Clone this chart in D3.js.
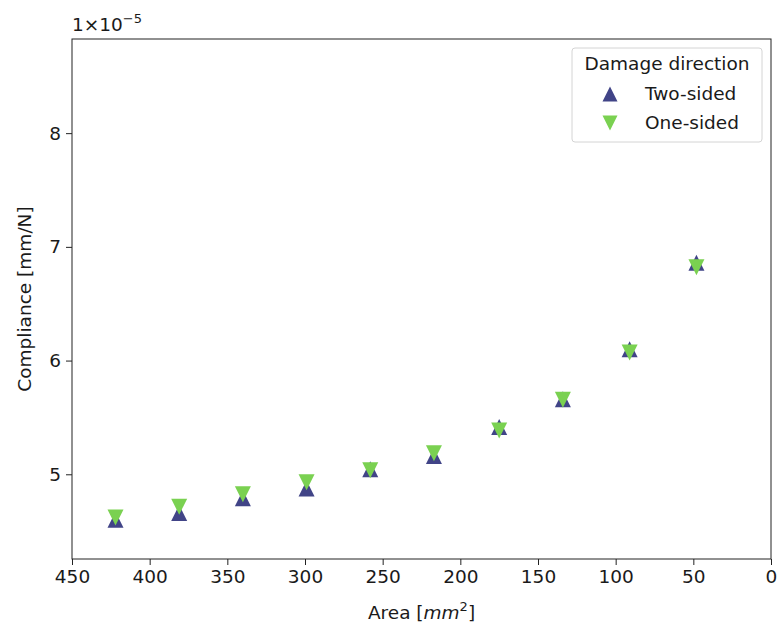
<!DOCTYPE html>
<html>
<head>
<meta charset="utf-8">
<script src="https://cdn.jsdelivr.net/npm/d3@7"></script>
<style>
  body { margin: 0; background: #fff; }
  text { font-family: "DejaVu Sans", sans-serif; fill: #1a1a1a; }
</style>
</head>
<body>
<div id="chart"></div>
<script>
// area in mm^2, compliance in 1e-5 mm/N
var areas = [422, 381, 340, 299, 258, 217, 175, 134, 91, 48];
var twoSided = [4.60, 4.66, 4.79, 4.875, 5.045, 5.16, 5.415, 5.66, 6.10, 6.86];
var oneSided = [4.62, 4.715, 4.825, 4.93, 5.035, 5.185, 5.385, 5.655, 6.07, 6.82];
var xTicks = [450, 400, 350, 300, 250, 200, 150, 100, 50, 0];
var yTicks = [5, 6, 7, 8];
var seriesNames = ["Two-sided", "One-sided"];
var seriesColors = ["#414487", "#7ad151"];

var fs = 18.5;
var width = 779, height = 626;
var margin = {top: 39, right: 8, bottom: 67, left: 72};
var w = width - margin.left - margin.right,
    h = height - margin.top - margin.bottom;

var svg = d3.select("#chart").append("svg")
    .attr("width", width)
    .attr("height", height);

var g = svg.append("g")
    .attr("transform", "translate(" + margin.left + "," + margin.top + ")");

var x = d3.scaleLinear().domain([450, 0]).range([0, w]);
var y = d3.scaleLinear().domain([4.255, 8.828]).range([h, 0]);

// axes
var xAxis = g.append("g")
    .attr("transform", "translate(0," + h + ")")
    .call(d3.axisBottom(x).tickValues(xTicks).tickSize(6).tickPadding(5).tickFormat(d3.format("d")));
var yAxis = g.append("g")
    .call(d3.axisLeft(y).tickValues(yTicks).tickSize(6).tickPadding(5).tickFormat(d3.format("d")));

[xAxis, yAxis].forEach(function(a) {
  a.select(".domain").remove();
  a.selectAll("line").attr("stroke", "#222").attr("stroke-width", 1);
  a.selectAll("text").style("font-size", fs + "px").style("font-family", "DejaVu Sans").attr("fill", "#1a1a1a");
});

// frame
g.append("rect")
  .attr("width", w).attr("height", h)
  .attr("fill", "none").attr("stroke", "#222").attr("stroke-width", 1);

// triangle with bbox centred on the point (like matplotlib ^ and v)
function triPath(s, down) {
  if (down) return "M0," + s + "L" + s + "," + (-s) + "L" + (-s) + "," + (-s) + "Z";
  return "M0," + (-s) + "L" + s + "," + s + "L" + (-s) + "," + s + "Z";
}

var pts = g.append("g");
pts.selectAll(".two")
  .data(areas.map(function(a, i) { return [a, twoSided[i]]; }))
  .enter().append("path")
  .attr("class", "two")
  .attr("d", triPath(8, false))
  .attr("transform", function(d) { return "translate(" + x(d[0]) + "," + y(d[1]) + ")"; })
  .attr("fill", seriesColors[0]);

pts.selectAll(".one")
  .data(areas.map(function(a, i) { return [a, oneSided[i]]; }))
  .enter().append("path")
  .attr("class", "one")
  .attr("d", triPath(8, true))
  .attr("transform", function(d) { return "translate(" + x(d[0]) + "," + y(d[1]) + ")"; })
  .attr("fill", seriesColors[1]);

// axis labels
var xl = svg.append("text")
  .attr("x", margin.left + w / 2).attr("y", 619)
  .attr("text-anchor", "middle")
  .style("font-size", fs + "px");
xl.append("tspan").text("Area [");
xl.append("tspan").style("font-style", "italic").text("mm");
xl.append("tspan").attr("dy", -8).style("font-size", "13px").text("2");
xl.append("tspan").attr("dy", 8).text("]");

svg.append("text")
  .attr("transform", "translate(31," + (margin.top + h / 2) + ") rotate(-90)")
  .attr("text-anchor", "middle")
  .style("font-size", fs + "px")
  .text("Compliance [mm/N]");

// offset text
var off = svg.append("text")
  .attr("x", 72).attr("y", 31)
  .style("font-size", fs + "px");
off.append("tspan").text("1×10");
off.append("tspan").attr("dy", -8).style("font-size", "13px").text("−5");

// legend
var lg = svg.append("g").attr("transform", "translate(572,48)");
lg.append("rect")
  .attr("width", 190).attr("height", 94)
  .attr("rx", 3).attr("ry", 3)
  .attr("fill", "#fff").attr("fill-opacity", 0.8)
  .attr("stroke", "#d4d4d4").attr("stroke-width", 1);
lg.append("text")
  .attr("x", 95).attr("y", 22)
  .attr("text-anchor", "middle")
  .style("font-size", fs + "px")
  .text("Damage direction");
seriesNames.forEach(function(name, i) {
  var yy = 46 + i * 29;
  lg.append("path")
    .attr("d", triPath(7.5, i === 1))
    .attr("transform", "translate(38," + yy + ")")
    .attr("fill", seriesColors[i]);
  lg.append("text")
    .attr("x", 73).attr("y", yy + 6)
    .style("font-size", fs + "px")
    .text(name);
});
</script>
</body>
</html>
